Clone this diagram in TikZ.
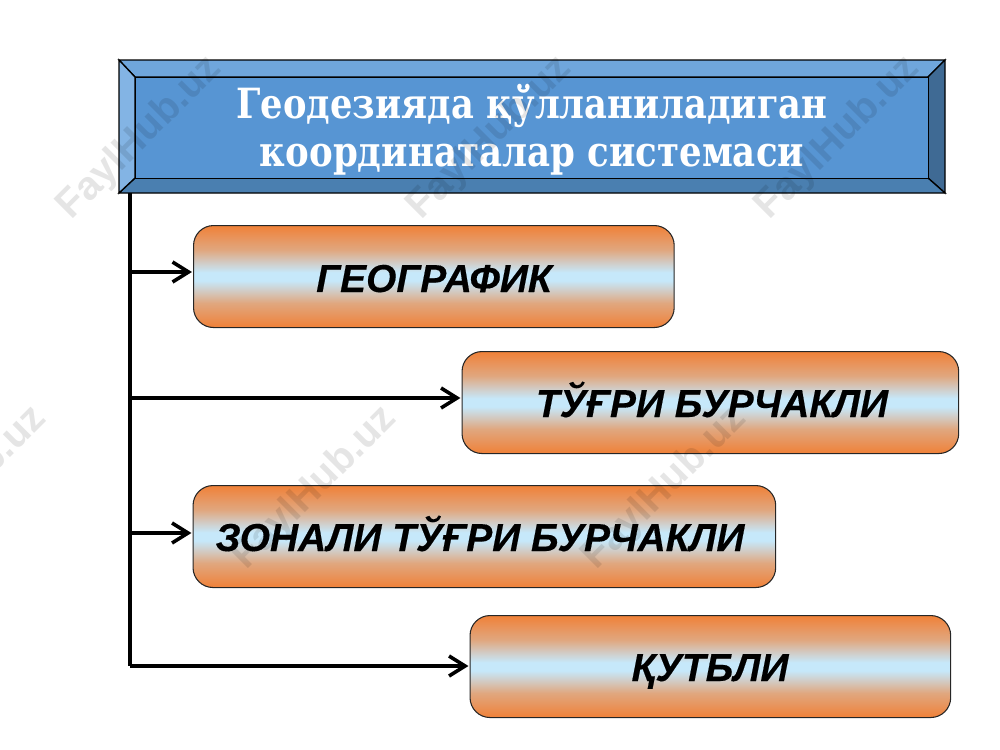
\documentclass[tikz,border=0pt]{standalone}
\usepackage{fontspec}
\setmainfont{DejaVu Serif}
\setsansfont{Liberation Sans}
\newfontfamily\barfont[FakeBold=0.35]{Liberation Sans}
\usetikzlibrary{arrows.meta,calc}
\definecolor{panelMid}{HTML}{5795D3}
\definecolor{bevelTop}{HTML}{6FA6DC}
\definecolor{bevelLeft}{HTML}{83B4E4}
\definecolor{bevelBottom}{HTML}{4A7FB0}
\definecolor{bevelRight}{HTML}{3F6A94}
\definecolor{barOrange}{HTML}{F08138}
\definecolor{barMid}{HTML}{E8945C}
\definecolor{barTan}{HTML}{E0A77F}
\definecolor{barGrey}{HTML}{D2CBC4}
\definecolor{barBlue}{HTML}{C6E8FA}
\pgfdeclareverticalshading{barshade}{100bp}{
  color(0bp)=(barOrange);
  color(25bp)=(barOrange);
  color(31bp)=(barMid);
  color(37bp)=(barTan);
  color(43bp)=(barGrey);
  color(48bp)=(barBlue);
  color(52bp)=(barBlue);
  color(57bp)=(barGrey);
  color(63bp)=(barTan);
  color(69bp)=(barMid);
  color(75bp)=(barOrange);
  color(100bp)=(barOrange)}
\tikzset{
  bar/.style={draw=black!85,line width=0.8pt,rounded corners=15pt,shading=barshade,
    minimum height=76.5pt,inner sep=0pt,anchor=north west},
  barlabel/.style={font=\barfont\bfseries\itshape\fontsize{29.2pt}{32pt}\selectfont,inner sep=0pt,text=black,anchor=base},
  trunk/.style={line width=3.4pt,black},
  branch/.style={line width=2.7pt,black,shorten >=0.8pt,-{Straight Barb[length=12pt,width=15pt,line width=2.7pt]}},
  bevel/.style={draw=black,line width=1pt,line join=miter},
  stamp/.style={font=\sffamily\bfseries\fontsize{30pt}{30pt}\selectfont,text=black,text opacity=0.1,rotate=45,inner sep=0pt}
}
\newcommand{\titleline}[2]{\resizebox{#1}{!}{\scalebox{1}[1.18]{#2}}}
\begin{document}
\begin{tikzpicture}[x=0.75pt,y=-0.75pt]
\useasboundingbox (0,0) rectangle (1000,750);
% title panel
\coordinate (oa) at (119,60);
\coordinate (ob) at (945,60);
\coordinate (oc) at (945,193);
\coordinate (od) at (119,193);
\coordinate (ia) at (135,77);
\coordinate (ib) at (928,77);
\coordinate (ic) at (928,178);
\coordinate (id) at (135,178);
\draw[bevel,fill=bevelTop] (oa)--(ob)--(ib)--(ia)--cycle;
\draw[bevel,fill=bevelRight] (ob)--(oc)--(ic)--(ib)--cycle;
\draw[bevel,fill=bevelBottom] (oc)--(od)--(id)--(ic)--cycle;
\draw[bevel,fill=bevelLeft] (od)--(oa)--(ia)--(id)--cycle;
\node[draw=black,line width=1pt,fill=panelMid,minimum width=594.75pt,minimum height=75.75pt,inner sep=0pt,anchor=north west] (title) at (ia) {};
\node[text=white,font=\bfseries\fontsize{26pt}{35.5pt}\selectfont,align=center,inner sep=0pt,anchor=base] (titletext) at (532,166)
  {\titleline{443pt}{Геодезияда қўлланиладиган}\\\titleline{408pt}{координаталар системаси}};
% bars
\node[bar,minimum width=360.5pt] (geo) at (193,225) {};
\node[bar,minimum width=372.5pt] (tugri) at (461.5,351) {};
\node[bar,minimum width=437pt] (zonal) at (192.5,485) {};
\node[bar,minimum width=360.5pt] (qutb) at (469.5,615) {};
\node[barlabel] (geol) at (434,292) {ГЕОГРАФИК};
\node[barlabel] (tugril) at (712,417) {ТЎҒРИ БУРЧАКЛИ};
\node[barlabel] (zonall) at (480,551) {ЗОНАЛИ ТЎҒРИ БУРЧАКЛИ};
\node[barlabel] (qutbl) at (710,681) {ҚУТБЛИ};
% connectors
\coordinate (t0) at (130,193);
\coordinate (t1) at (130,272);
\coordinate (t2) at (130,398);
\coordinate (t3) at (130,533);
\coordinate (t4) at (130,666);
\draw[trunk] (t0) -- (t4);
\draw[branch] (t1) -- (t1 -| geo.west);
\draw[branch] (t2) -- (t2 -| tugri.west);
\draw[branch] (t3) -- (t3 -| zonal.west);
\draw[branch] (t4) -- (t4 -| qutb.west);
% watermark
\begin{scope}
\clip (0,0) rectangle (1000,750);
\foreach \n/\px/\py in {a/140/138,b/490/138,c/838/138,d/-35/488,e/315/488,f/665/488}{
  \node[stamp] (wm\n) at (\px,\py) {FaylHub.uz};
}
\end{scope}
\end{tikzpicture}
\end{document}
